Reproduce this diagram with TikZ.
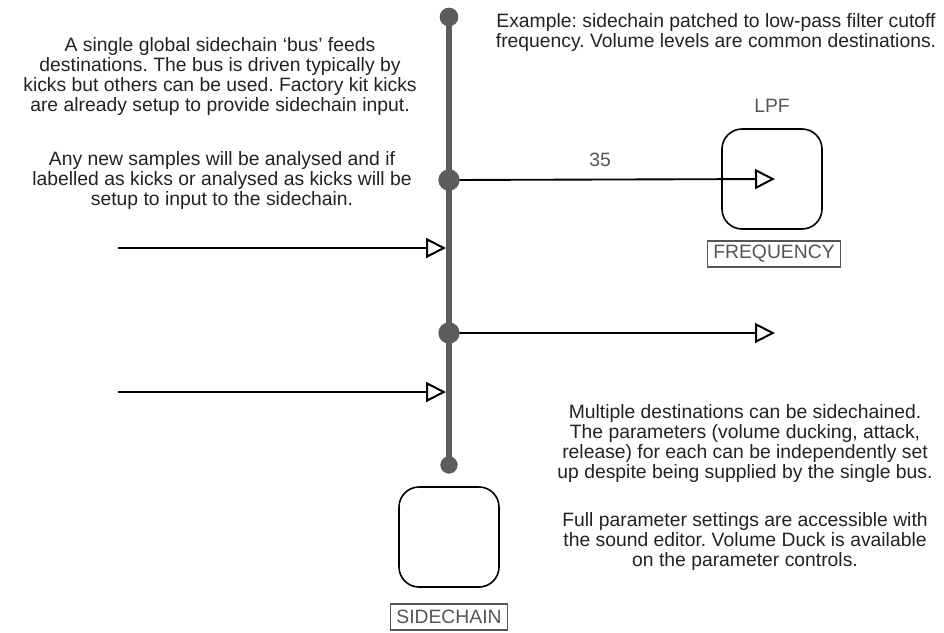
\documentclass[tikz,border=0pt]{standalone}
\usepackage{fontspec}
\setmainfont{Liberation Sans}
\usetikzlibrary{arrows.meta,positioning,calc}
\definecolor{BusGrey}{RGB}{92,92,92}
\definecolor{NoteInk}{RGB}{34,34,34}
\definecolor{TagGrey}{RGB}{85,85,85}
\frenchspacing

\begin{document}
\begin{tikzpicture}[
  x=0.75pt, y=-0.75pt,
  note/.style={align=center, text=NoteInk, font=\fontsize{14.5}{15}\selectfont, inner sep=0pt},
  module/.style={draw=black, line width=1.2pt, rounded corners=15pt,
    minimum width=75pt, minimum height=75pt},
  tag/.style={draw=TagGrey, line width=0.8pt, text=TagGrey, inner xsep=4.5pt, inner ysep=1pt,
    font=\fontsize{14.5}{15}\selectfont, minimum height=19.5pt},
  label/.style={text=TagGrey, font=\fontsize{14.5}{15}\selectfont},
  bus/.style={draw=BusGrey, line width=4pt},
  dot/.style={circle, fill=BusGrey, inner sep=0pt, minimum size=#1},
  arrow/.style={-{Triangle[open, length=15pt, width=15pt, line width=1.5pt]},
    line width=1.4pt, draw=black}
]
\useasboundingbox (0,0) rectangle (944,632);

% bus and modules
\node[module] (lpf) at (772,179) {};
\node[module] (sidechain) at (449,537) {};
\node[tag] (freq) at (774,254) {FREQUENCY};
\node[tag] (sctag) at (449,617) {SIDECHAIN};
\node[label] (lpflabel) at (772,106) {LPF};

\coordinate (busTop) at (449,17);
\coordinate (busBottom) at (449,465);
\coordinate (jLpf) at (449,180);
\coordinate (jOut) at (449,333);
\coordinate (out) at (775,333);
\coordinate (inA) at (118,248);
\coordinate (inAtip) at (446,248);
\coordinate (inB) at (118,392);
\coordinate (inBtip) at (446,392);
\coordinate (lpfTip) at ($(lpf.center)+(3,0)$);

\draw[bus] (busTop) -- (busBottom);
\draw[arrow] (jLpf) -- (lpfTip);
\draw[arrow] (jOut) -- (out);
\draw[arrow] (inA) -- (inAtip);
\draw[arrow] (inB) -- (inBtip);

\node[dot=14pt] at (busTop) {};
\node[dot=16pt] at (jLpf) {};
\node[dot=16pt] at (jOut) {};
\node[dot=13pt] at (busBottom) {};

\node[label] (level) at (600,160) {35};

% notes
\node[note] (noteBus) at (220,76) {A single global sidechain `bus' feeds\\destinations. The bus is driven typically by\\kicks but others can be used. Factory kit kicks\\are already setup to provide sidechain input.};
\node[note] (noteNew) at (222,180) {Any new samples will be analysed and if\\labelled as kicks or analysed as kicks will be\\setup to input to the sidechain.};
\node[note] (noteEx) at (716,32) {Example: sidechain patched to low-pass filter cutoff\\frequency. Volume levels are common destinations.};
\node[note] (noteMulti) at (745,443) {Multiple destinations can be sidechained.\\The parameters (volume ducking, attack,\\release) for each can be independently set\\up despite being supplied by the single bus.};
\node[note] (noteFull) at (745,541) {Full parameter settings are accessible with\\the sound editor. Volume Duck is available\\on the parameter controls.};
\end{tikzpicture}
\end{document}
